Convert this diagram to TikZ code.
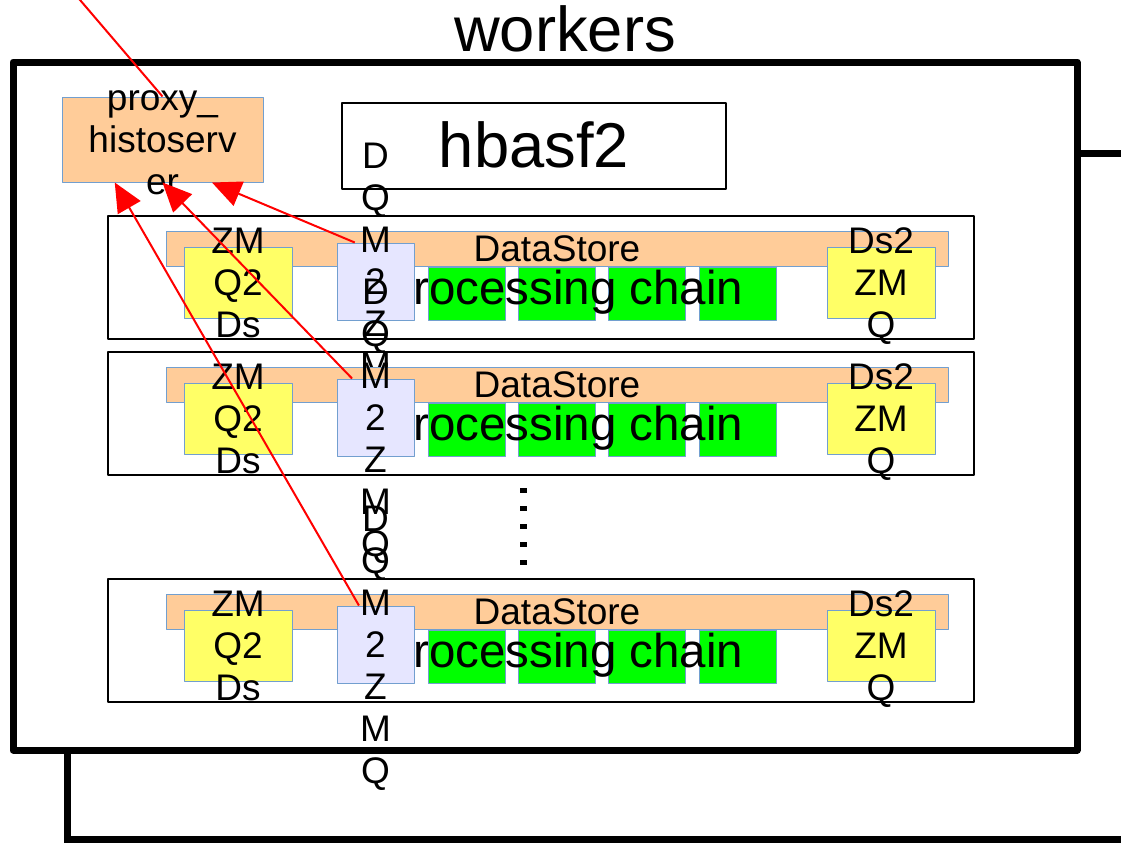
\documentclass[tikz,border=0pt]{standalone}
\usepackage{fontspec}
\setmainfont{Liberation Sans}
\usetikzlibrary{arrows.meta,positioning}

\definecolor{boxorange}{HTML}{FFCC99}
\definecolor{edgeblue}{HTML}{729FCF}
\definecolor{zmqyellow}{HTML}{FFFF66}
\definecolor{dqmlilac}{HTML}{E6E6FF}
\definecolor{modgreen}{HTML}{00FF00}

\newcommand{\hugetext}{\fontsize{47.5pt}{54pt}\selectfont}
\newcommand{\chaintext}{\fontsize{35.6pt}{41pt}\selectfont}
\newcommand{\boxtext}{\fontsize{27.75pt}{31.5pt}\selectfont}
\newcommand{\lnst}{\rule[-0.212em]{0pt}{1.117em}}

\begin{document}
\begin{tikzpicture}[x=0.75pt,y=-0.75pt,line join=round]
          \tikzstyle{boxframe}=[draw=black,line width=1.5pt,inner sep=0pt]
          \tikzstyle{blueedge}=[draw=edgeblue,line width=0.75pt,inner sep=0pt]
          \tikzstyle{lbl}=[font=\boxtext,align=center,inner sep=0pt]
          \tikzstyle{rowbox}=[boxframe,minimum width=649.5pt,minimum height=92.25pt]
          \tikzstyle{storebar}=[blueedge,fill=boxorange,minimum width=586.5pt,minimum height=26.25pt]
          \tikzstyle{zmqbox}=[blueedge,fill=zmqyellow,minimum width=81pt,minimum height=53.25pt]
          \tikzstyle{dqmbox}=[blueedge,fill=dqmlilac,minimum size=57.75pt]
          \tikzstyle{modbox}=[blueedge,fill=modgreen,minimum width=57.75pt,minimum height=39.75pt]
          \tikzstyle{histoarrow}=[red,line width=1.5pt,-{Triangle[length=21.75pt,width=19.5pt]}]
          \tikzstyle{pipe}=[line width=5.25pt]
          \useasboundingbox (0,0) rectangle (1121,843);

          \node[draw,pipe,minimum width=798pt,minimum height=516pt,inner sep=0pt] (workers) at (545,406) {};
          \node[font=\hugetext,inner sep=0pt] (title) at (565,30) {workers\lnst};
          \node[boxframe,minimum width=288pt,minimum height=64.5pt,font=\hugetext] (hbasf) at (534,146) {hbasf2\lnst};
          \node[blueedge,fill=boxorange,minimum width=150.75pt,minimum height=63.75pt,
                label={[lbl]center:proxy\_\lnst\\histoserv\lnst\\er\lnst}] (proxy) at (162.5,139.5) {};

          % first worker
          \node[rowbox] (row1) at (541,277.5) {};
          \node[storebar,label={[lbl]center:DataStore\lnst}] (ds1) at (557,248.5) {};
          \node[zmqbox,label={[lbl]center:ZM\lnst\\Q2\lnst\\Ds\lnst}] (in1) at (238,282.5) {};
          \node[zmqbox,label={[lbl]center:Ds2\lnst\\ZM\lnst\\Q\lnst}] (out1) at (881,282.5) {};
          \node[modbox] (m11) at (466.5,293.5) {};
          \node[modbox,right=9.25pt of m11] (m12) {};
          \node[modbox,right=9.25pt of m12] (m13) {};
          \node[modbox,right=9.25pt of m13] (m14) {};
          \node[font=\chaintext,inner sep=0pt] (chain1) at (565,288.5) {processing chain\lnst};
          \node[dqmbox,label={[lbl]center:D\lnst\\Q\lnst\\M\lnst\\2\lnst\\Z\lnst\\M\lnst\\Q\lnst}] (dqm1) at (375.5,281.5) {};

          % second worker
          \node[rowbox] (row2) at (541,413.5) {};
          \node[storebar,label={[lbl]center:DataStore\lnst}] (ds2) at (557,384.5) {};
          \node[zmqbox,label={[lbl]center:ZM\lnst\\Q2\lnst\\Ds\lnst}] (in2) at (238,418.5) {};
          \node[zmqbox,label={[lbl]center:Ds2\lnst\\ZM\lnst\\Q\lnst}] (out2) at (881,418.5) {};
          \node[modbox] (m21) at (466.5,429.5) {};
          \node[modbox,right=9.25pt of m21] (m22) {};
          \node[modbox,right=9.25pt of m22] (m23) {};
          \node[modbox,right=9.25pt of m23] (m24) {};
          \node[font=\chaintext,inner sep=0pt] (chain2) at (565,424.5) {processing chain\lnst};
          \node[dqmbox,label={[lbl]center:D\lnst\\Q\lnst\\M\lnst\\2\lnst\\Z\lnst\\M\lnst\\Q\lnst}] (dqm2) at (375.5,417.5) {};

          % more workers
          \draw[line width=5.25pt,dash pattern=on 4.1pt off 9.4pt,line cap=butt] (523.5,488) -- (523.5,566);

          % last worker
          \node[rowbox] (row3) at (541,640.5) {};
          \node[storebar,label={[lbl]center:DataStore\lnst}] (ds3) at (557,611.5) {};
          \node[zmqbox,label={[lbl]center:ZM\lnst\\Q2\lnst\\Ds\lnst}] (in3) at (238,645.5) {};
          \node[zmqbox,label={[lbl]center:Ds2\lnst\\ZM\lnst\\Q\lnst}] (out3) at (881,645.5) {};
          \node[modbox] (m31) at (466.5,656.5) {};
          \node[modbox,right=9.25pt of m31] (m32) {};
          \node[modbox,right=9.25pt of m32] (m33) {};
          \node[modbox,right=9.25pt of m33] (m34) {};
          \node[font=\chaintext,inner sep=0pt] (chain3) at (565,651.5) {processing chain\lnst};
          \node[dqmbox,label={[lbl]center:D\lnst\\Q\lnst\\M\lnst\\2\lnst\\Z\lnst\\M\lnst\\Q\lnst}] (dqm3) at (375.5,644.5) {};

          % links leaving the picture
          \coordinate (upstream) at (71.5,-10);
          \coordinate (farright) at (1130,153);
          \coordinate (bend) at (67,839);
          \coordinate (farbottom) at (1130,839);
          \draw[pipe] (workers.east |- farright) -- (farright);
          \draw[pipe,line join=miter] (workers.south -| bend) -- (bend) -- (farbottom);
          \draw[red,line width=1.5pt] (upstream) -- (proxy.north);

          \draw[histoarrow] (dqm1.118) -- (proxy.319);
          \draw[histoarrow] (dqm2.121) -- (proxy.south);
          \draw[histoarrow] (dqm3.113) -- (proxy.222);
        \end{tikzpicture}
\end{document}
